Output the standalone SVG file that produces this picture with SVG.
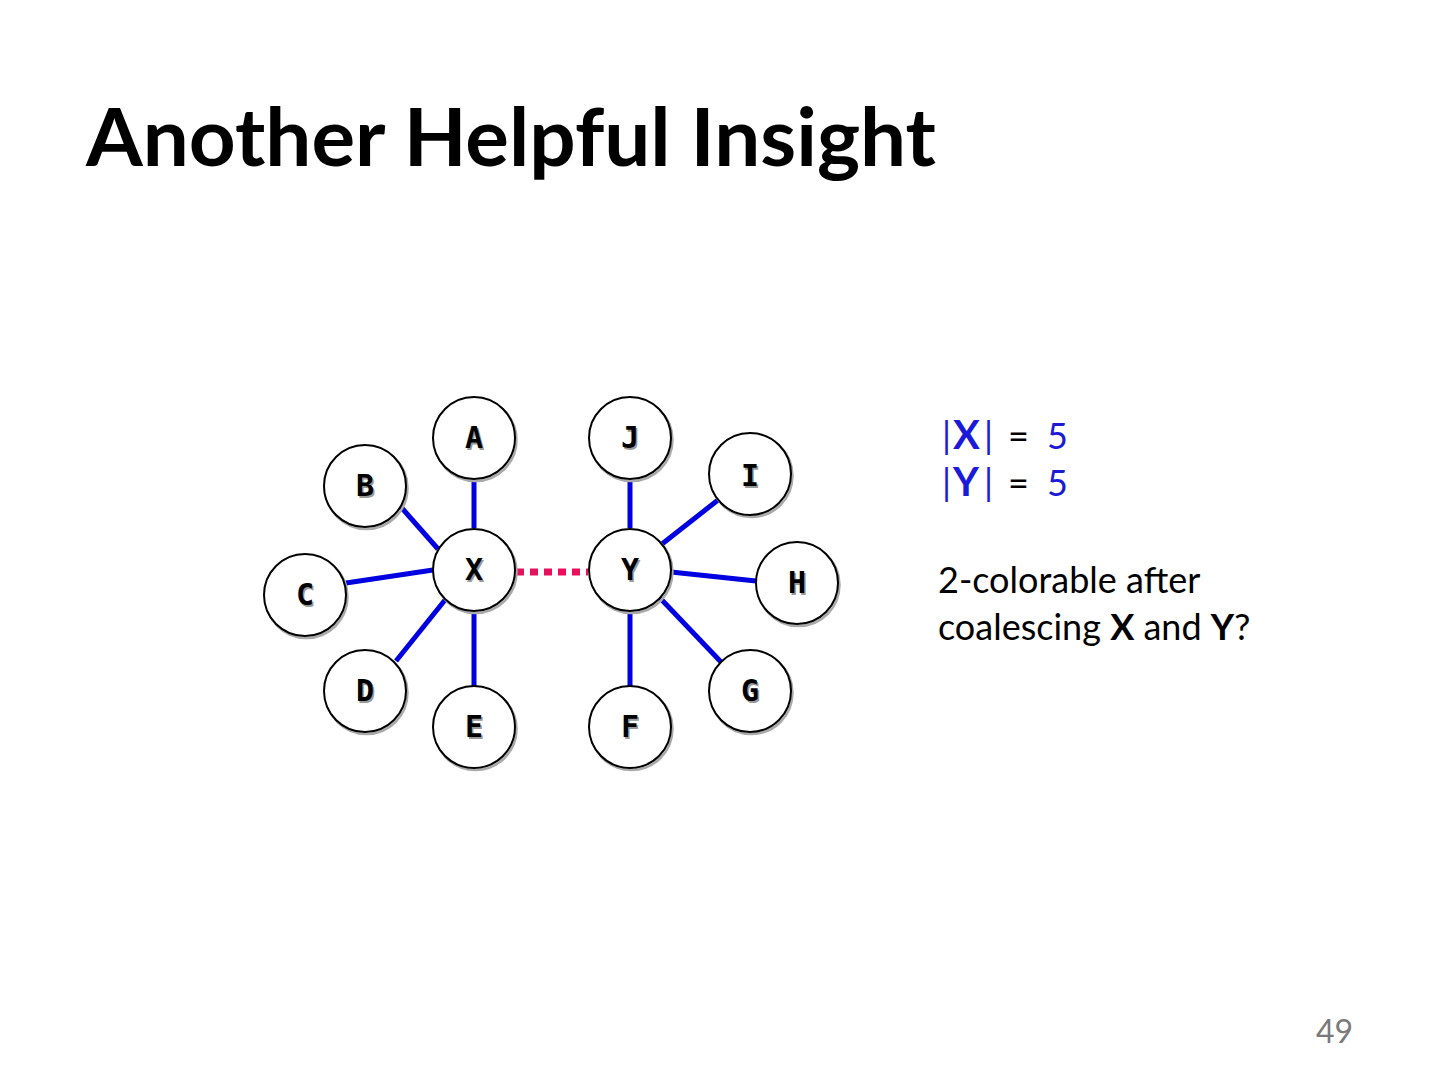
<svg xmlns="http://www.w3.org/2000/svg" width="1440" height="1080" viewBox="0 0 1440 1080">
<defs>
<style>
.title{font-family:Lato,"Liberation Sans",sans-serif;font-weight:bold;font-size:80px;fill:#000}
.node circle.sh{fill:none;stroke:#aaa;stroke-width:2.5}
.node circle.c{fill:#fff;stroke:#000;stroke-width:2}
.lbl{font-family:"DejaVu Sans Mono",monospace;font-weight:bold;font-size:30px;text-anchor:middle}
.lsh{fill:#999}
.edge{stroke:#0000e0;stroke-width:5;fill:none}
.coal{stroke:#e8105c;stroke-width:7;stroke-dasharray:8,6;fill:none}
.txt{font-family:Lato,"Liberation Sans",sans-serif;font-size:36px;fill:#000}
.blue{fill:#1a1ad8}
</style>
</defs>
<rect width="1440" height="1080" fill="#fff"/>
<text class="title" x="86" y="166" textLength="850" lengthAdjust="spacingAndGlyphs">Another Helpful Insight</text>
<g id="connectors">
<line class="edge" x1="474" y1="480" x2="474" y2="528"/>
<line class="edge" x1="401" y1="507" x2="438" y2="549"/>
<line class="edge" x1="346" y1="583" x2="433" y2="570"/>
<line class="edge" x1="396" y1="661" x2="445" y2="600"/>
<line class="edge" x1="474" y1="612" x2="474" y2="686"/>
<line class="edge" x1="630" y1="480" x2="630" y2="528"/>
<line class="edge" x1="718" y1="500" x2="662" y2="544"/>
<line class="edge" x1="671" y1="572" x2="756" y2="581"/>
<line class="edge" x1="660" y1="598" x2="721" y2="662"/>
<line class="edge" x1="630" y1="612" x2="630" y2="686"/>
<line class="coal" x1="516" y1="572" x2="588" y2="572"/>
</g>
<g id="node-A" class="node"><circle class="sh" cx="475.5" cy="440" r="41"/><circle class="c" cx="474" cy="438" r="41"/><text class="lbl lsh" x="475.5" y="450">A</text><text class="lbl" x="474" y="448">A</text></g>
<g id="node-J" class="node"><circle class="sh" cx="631.5" cy="440" r="41"/><circle class="c" cx="630" cy="438" r="41"/><text class="lbl lsh" x="631.5" y="450">J</text><text class="lbl" x="630" y="448">J</text></g>
<g id="node-B" class="node"><circle class="sh" cx="366.5" cy="488" r="41"/><circle class="c" cx="365" cy="486" r="41"/><text class="lbl lsh" x="366.5" y="498">B</text><text class="lbl" x="365" y="496">B</text></g>
<g id="node-I" class="node"><circle class="sh" cx="751.5" cy="476" r="41"/><circle class="c" cx="750" cy="474" r="41"/><text class="lbl lsh" x="751.5" y="488">I</text><text class="lbl" x="750" y="486">I</text></g>
<g id="node-X" class="node"><circle class="sh" cx="475.5" cy="572" r="41"/><circle class="c" cx="474" cy="570" r="41"/><text class="lbl lsh" x="475.5" y="582">X</text><text class="lbl" x="474" y="580">X</text></g>
<g id="node-Y" class="node"><circle class="sh" cx="631.5" cy="572" r="41"/><circle class="c" cx="630" cy="570" r="41"/><text class="lbl lsh" x="631.5" y="582">Y</text><text class="lbl" x="630" y="580">Y</text></g>
<g id="node-C" class="node"><circle class="sh" cx="306.5" cy="597" r="41"/><circle class="c" cx="305" cy="595" r="41"/><text class="lbl lsh" x="306.5" y="607">C</text><text class="lbl" x="305" y="605">C</text></g>
<g id="node-H" class="node"><circle class="sh" cx="798.5" cy="585" r="41"/><circle class="c" cx="797" cy="583" r="41"/><text class="lbl lsh" x="798.5" y="595">H</text><text class="lbl" x="797" y="593">H</text></g>
<g id="node-D" class="node"><circle class="sh" cx="366.5" cy="693" r="41"/><circle class="c" cx="365" cy="691" r="41"/><text class="lbl lsh" x="366.5" y="703">D</text><text class="lbl" x="365" y="701">D</text></g>
<g id="node-G" class="node"><circle class="sh" cx="751.5" cy="693" r="41"/><circle class="c" cx="750" cy="691" r="41"/><text class="lbl lsh" x="751.5" y="703">G</text><text class="lbl" x="750" y="701">G</text></g>
<g id="node-E" class="node"><circle class="sh" cx="475.5" cy="729" r="41"/><circle class="c" cx="474" cy="727" r="41"/><text class="lbl lsh" x="475.5" y="739">E</text><text class="lbl" x="474" y="737">E</text></g>
<g id="node-F" class="node"><circle class="sh" cx="631.5" cy="729" r="41"/><circle class="c" cx="630" cy="727" r="41"/><text class="lbl lsh" x="631.5" y="739">F</text><text class="lbl" x="630" y="737">F</text></g>
<text class="txt" y="449"><tspan class="blue" x="942">|</tspan><tspan class="blue" x="953" font-weight="bold" font-size="40">X</tspan><tspan class="blue" x="984">|</tspan><tspan x="1008">=</tspan><tspan class="blue" x="1047">5</tspan></text>
<text class="txt" y="496"><tspan class="blue" x="942">|</tspan><tspan class="blue" x="953" font-weight="bold" font-size="40">Y</tspan><tspan class="blue" x="984">|</tspan><tspan x="1008">=</tspan><tspan class="blue" x="1047">5</tspan></text>
<text class="txt" x="938" y="593">2-colorable after</text>
<text class="txt" x="938" y="640">coalescing <tspan font-weight="bold">X</tspan> and <tspan font-weight="bold">Y</tspan>?</text>
<text x="1353" y="1043" text-anchor="end" font-family="Lato,'Liberation Sans',sans-serif" font-size="32" fill="#7a7a7a">49</text>
</svg>
